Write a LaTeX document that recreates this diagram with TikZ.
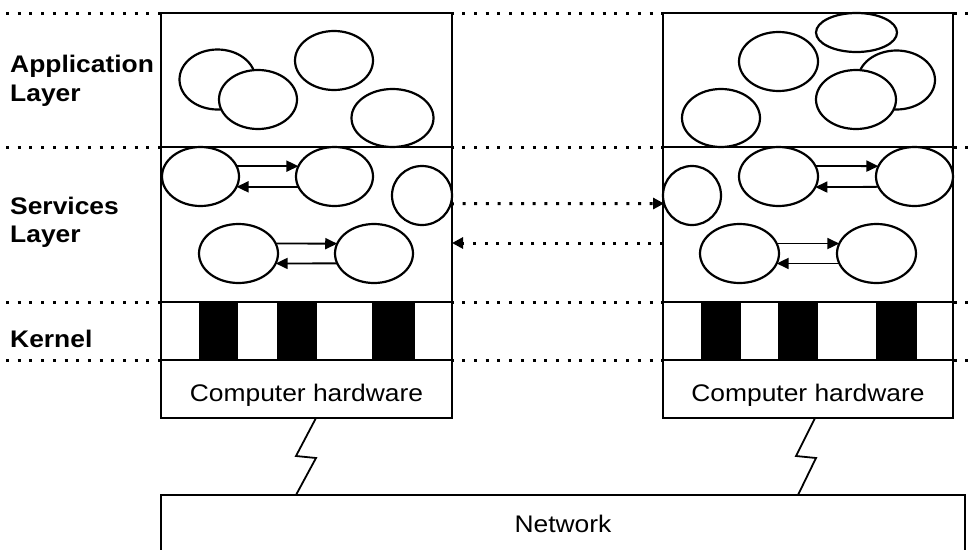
\documentclass[tikz,border=0pt]{standalone}
\usepackage{fontspec}
\setmainfont[FakeStretch=1.1]{Liberation Sans}
\usetikzlibrary{shapes.geometric,arrows.meta}
\begin{document}
\begin{tikzpicture}[x=1pt,y=-1pt,
  box/.style={draw,line width=2.2pt,fill=white,anchor=north west,inner sep=0pt,outer sep=0pt},
  ell/.style={ellipse,draw,line width=2.2pt,fill=white,inner sep=0pt,outer sep=0pt},
  dotline/.style={line width=3pt,dash pattern=on 3pt off 8.7pt},
  arr/.style={line width=1.8pt,-{Triangle[length=12pt,width=11pt]}},
  darr/.style={dotline,-{Triangle[length=11pt,width=11pt]}},
  lbl/.style={font=\bfseries\fontsize{24}{28}\selectfont,anchor=base west,inner sep=0pt},
  txt/.style={font=\fontsize{24}{28}\selectfont,anchor=base,inner sep=0pt},
  zig/.style={line width=1.8pt}
]
\useasboundingbox (0,0) rectangle (977,549);
\clip (0,0) rectangle (977,549);

% dotted layer lines
\foreach \yy in {13,147,302,360}{
  \draw[dotline] (6,\yy) -- (977,\yy);
}

% network
\node[box,minimum width=804pt,minimum height=100pt] (NET) at (161,495) {};
\node[txt] (NETt) at (563,532) {Network};

% left machine
\node[box,minimum width=291pt,minimum height=134pt] (LA) at (161,13) {};
\node[box,minimum width=291pt,minimum height=155pt] (LS) at (161,147) {};
\node[box,minimum width=291pt,minimum height=58pt] (LK) at (161,302) {};
\node[box,minimum width=291pt,minimum height=58pt] (LH) at (161,360) {};
\node[txt] (LHt) at (306.5,401) {Computer hardware};
\fill (199,302) rectangle (238,360);
\fill (277,302) rectangle (317,360);
\fill (372,302) rectangle (415,360);

% right machine
\node[box,minimum width=290pt,minimum height=134pt] (RA) at (663,13) {};
\node[box,minimum width=290pt,minimum height=155pt] (RS) at (663,147) {};
\node[box,minimum width=290pt,minimum height=58pt] (RK) at (663,302) {};
\node[box,minimum width=290pt,minimum height=58pt] (RH) at (663,360) {};
\node[txt] (RHt) at (808,401) {Computer hardware};
\fill (701,302) rectangle (741,360);
\fill (778,302) rectangle (818,360);
\fill (876,302) rectangle (917,360);

% left application layer
\node[ell,minimum width=76pt,minimum height=60pt] (E1) at (217.5,79.5) {};
\node[ell,minimum width=78pt,minimum height=59pt] (E2) at (258,99.5) {};
\node[ell,minimum width=78pt,minimum height=59pt] (E3) at (334,60.5) {};
\node[ell,minimum width=82pt,minimum height=58pt] (E4) at (392.5,118) {};

% left services layer
\node[ell,minimum width=77pt,minimum height=59pt] (S1) at (200.5,176.5) {};
\node[ell,minimum width=77pt,minimum height=59pt] (S2) at (334.5,176.5) {};
\node[ell,minimum width=60pt,minimum height=59pt] (S3) at (422,195.5) {};
\node[ell,minimum width=79pt,minimum height=59pt] (S4) at (238.5,253.5) {};
\node[ell,minimum width=78pt,minimum height=59pt] (S5) at (374,253.5) {};
\draw[arr] (S1.16) -- (S2.164);
\draw[arr] (S2.196) -- (S1.-16);
\draw[arr] (S4.15) -- (S5.165);
\draw[arr] (S5.195) -- (S4.-15);

% right application layer
\node[ell,minimum width=81pt,minimum height=39pt] (R1) at (856.5,32.5) {};
\node[ell,minimum width=79pt,minimum height=59pt] (R2) at (778.5,61.5) {};
\node[ell,minimum width=77pt,minimum height=59pt] (R3) at (896.5,80) {};
\node[ell,minimum width=80pt,minimum height=59pt] (R4) at (856,99.5) {};
\node[ell,minimum width=78pt,minimum height=58pt] (R5) at (721,118) {};

% right services layer
\node[ell,minimum width=58pt,minimum height=59pt] (T1) at (692,195.5) {};
\node[ell,minimum width=79pt,minimum height=59pt] (T2) at (778.5,176.5) {};
\node[ell,minimum width=77pt,minimum height=59pt] (T3) at (914.5,176.5) {};
\node[ell,minimum width=79pt,minimum height=59pt] (T4) at (739.5,253.5) {};
\node[ell,minimum width=79pt,minimum height=59pt] (T5) at (876.5,253.5) {};
\draw[arr] (T2.16) -- (T3.164);
\draw[arr] (T3.196) -- (T2.-16);
\draw[arr] (T4.15) -- (T5.165);
\draw[arr] (T5.195) -- (T4.-15);

% dotted inter-machine arrows
\coordinate (d2) at (0,243);
\draw[darr] (S3.-16) -- (T1.196);
\draw[darr] (RS.west |- d2) -- (LS.east |- d2);

% zigzag links
\coordinate (zl1) at (316,0);
\coordinate (zl2) at (296,0);
\coordinate (zr1) at (815,0);
\coordinate (zr2) at (798,0);
\draw[zig] (LH.south -| zl1) -- (296,456) -- (316,458) -- (NET.north -| zl2);
\draw[zig] (RH.south -| zr1) -- (796,456) -- (816,458) -- (NET.north -| zr2);

% layer labels
\node[lbl] (l1) at (10,72) {Application};
\node[lbl] (l2) at (10,101) {Layer};
\node[lbl] (l3) at (10,214) {Services};
\node[lbl] (l4) at (10,242) {Layer};
\node[lbl] (l5) at (10,347) {Kernel};
\end{tikzpicture}
\end{document}
